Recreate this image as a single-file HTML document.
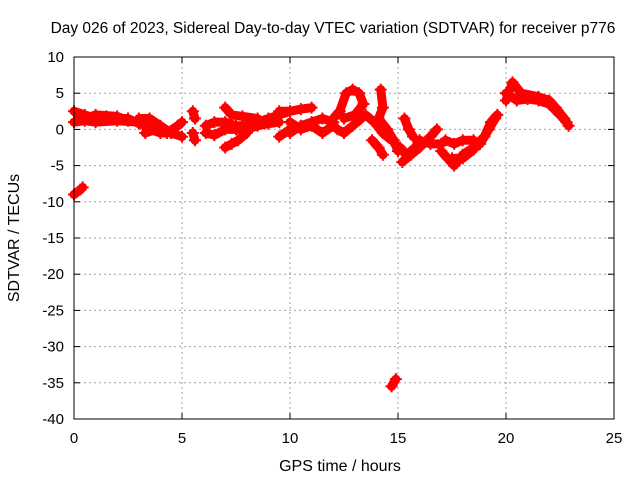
<!DOCTYPE html>
<html><head><meta charset="utf-8"><style>
body{margin:0;background:#fff}
svg{display:block;font-family:"Liberation Sans",sans-serif;font-size:15px}
</style></head><body>
<svg id="c" width="640" height="480"></svg>
<script>
const xTicks=[0,5,10,15,20,25];
const yTicks=[10,5,0,-5,-10,-15,-20,-25,-30,-35,-40];
const arcA=[[0,2.5],[0.5,2],[1,1.5],[1.5,1.8],[2,1.5],[2.5,1.5],[3,0.8],[3.5,0.5]];
const arcB=[[0,1],[0.5,1.2],[1,1],[2,1.2],[3,1],[3.5,0],[4,-0.5],[4.5,-0.5]];
const arcC=[[3,1.5],[3.5,1.5],[4,0.5],[4.5,-0.5],[5,-1]];
const arcD=[[3.3,-0.5],[3.8,0],[4.3,-0.5],[4.8,0.5],[5,1]];
const arcE=[[5.5,2.5],[5.6,1.5]];
const arcF=[[5.5,-0.5],[5.6,-1.5]];
const arcG=[[6.1,0.5],[6.5,1],[7,1],[7.5,0.5],[8,0.5],[8.5,1],[9,1.5],[9.5,2],[10,2.5]];
const arcH=[[6.1,-0.5],[6.5,-0.8],[7,0],[7.5,0],[8,0],[8.5,0.5],[9,0.8],[9.5,1]];
const arcI=[[7,3],[7.3,2],[7.8,1.8],[8.5,1.5]];
const arcJ=[[7,-2.5],[7.3,-2],[7.6,-1.5],[8,-0.5]];
const arcK=[[9.5,2.5],[10,2.5],[10.5,2.8],[11,3]];
const arcL=[[10,1],[10.5,0],[11,0.5],[11.5,-0.5],[12,0.5]];
const arcM=[[10,-0.5],[10.5,0.5],[11,1],[11.5,1.5],[12,1]];
const arcN=[[9.5,-1],[10,0]];
const arcO=[[12,1.5],[12.3,2.5],[12.6,5],[12.9,5.5],[13.2,5],[13.4,3.5],[13,2],[12.5,1.5]];
const arcP=[[12.2,0],[12.5,-0.5],[12.9,0.5],[13.3,1.5]];
const arcQ=[[14.2,5.5],[14.3,3],[14.1,1.5],[14.5,0],[14.8,-1.5],[15,-3]];
const arcR=[[13.5,2],[13.9,1],[14.3,-0.5],[14.7,-1.5]];
const arcS=[[13.8,-1.5],[14.1,-2.5],[14.3,-3.5]];
const arcT=[[0,-9],[0.3,-8.3],[0.4,-8]];
const arcU=[[14.7,-35.5],[14.9,-34.5]];
const arcV=[[15.2,-4.5],[15.6,-3.5],[16,-2.5],[16.5,-1],[16.8,0]];
const arcW=[[15.1,-2.5],[15.4,-3.5],[15.8,-2.5],[16,-1.5],[16.5,-2],[17,-2]];
const arcX=[[15.3,1.5],[15.5,0],[15.7,-1]];
const arcY=[[17,-3],[17.3,-4],[17.6,-5],[18,-3.5],[18.5,-2.5],[19,-1],[19.3,1],[19.6,2]];
const arcZ=[[17.2,-1.5],[17.6,-2],[18,-1.5],[18.5,-1.5]];
const arcAA=[[17.5,-4],[18,-4],[18.5,-2.8]];
const arcAB=[[20,4],[20.3,6.5],[20.7,5],[21.5,4.5],[22,4],[22.3,3],[22.7,1.5],[22.9,0.5]];
const arcAC=[[20,5],[20.5,4],[21,4.2],[21.5,4],[22,3.5],[22.5,2],[22.8,1]];
const arcAD=[[0.2,2],[0.5,1.5],[1,2],[2,1.8],[2.5,1.2]];
const arcAE=[[18.8,-2],[19.2,0],[19.5,1.5]];
const arcs=[arcA,arcB,arcC,arcD,arcE,arcF,arcG,arcH,arcI,arcJ,arcK,arcL,arcM,arcN,arcO,arcP,arcQ,arcR,arcS,arcT,arcU,arcV,arcW,arcX,arcY,arcZ,arcAA,arcAB,arcAC,arcAD,arcAE];

const L=74,R=614,T=57,B=419;
const sx=v=>L+(v-0)/25*(R-L);
const sy=v=>T+(10-v)/50*(B-T);
const svg=document.getElementById('c');
const NS='http://www.w3.org/2000/svg';
function mk(t,a,p){const e=document.createElementNS(NS,t);for(const k in a)e.setAttribute(k,a[k]);(p||svg).appendChild(e);return e;}

xTicks.forEach(v=>{
  const x=sx(v);
  if(v>0&&v<25){const g=mk('line',{x1:x,y1:T,x2:x,y2:B,stroke:'#a0a0a0','stroke-dasharray':'2,3'});
  
  }
  mk('line',{x1:x,y1:B,x2:x,y2:B-6,stroke:'#000'});
  mk('line',{x1:x,y1:T,x2:x,y2:T+6,stroke:'#000'});
  const t=mk('text',{x:x,y:B+24,'text-anchor':'middle'});t.textContent=v;
  
  
});
yTicks.forEach(v=>{
  const y=sy(v);
  if(v<10&&v>-40){const g=mk('line',{x1:L,y1:y,x2:R,y2:y,stroke:'#a0a0a0','stroke-dasharray':'2,3'});
  
  }
  mk('line',{x1:L,y1:y,x2:L+6,y2:y,stroke:'#000'});
  mk('line',{x1:R,y1:y,x2:R-6,y2:y,stroke:'#000'});
  const t=mk('text',{x:L-10,y:y+5,'text-anchor':'end'});t.textContent=v;
  
  
});
const g=mk('g',{});


arcs.forEach(a=>{
  const pl=mk('polyline',{points:a.map(p=>sx(p[0])+','+sy(p[1])).join(' '),fill:'none',stroke:'#f00','stroke-width':9,'stroke-linejoin':'round','stroke-linecap':'round'},g);
  
  
  a.forEach(p=>{const x=sx(p[0]),y=sy(p[1]);
    const m=mk('path',{d:`M${x-6},${y}H${x+6}M${x},${y-6}V${y+6}`,stroke:'#f00','stroke-width':2},g);
    
    });
});
const bd=mk('rect',{x:L,y:T,width:R-L,height:B-T,fill:'none',stroke:'#000'});


const ti=mk('text',{x:333,y:33,'text-anchor':'middle','font-size':'15.5'});ti.textContent='Day 026 of 2023, Sidereal Day-to-day VTEC variation (SDTVAR) for receiver p776';


const xl=mk('text',{x:340,y:471,'text-anchor':'middle','font-size':'16'});xl.textContent='GPS time / hours';


const yl=mk('text',{x:0,y:0,'text-anchor':'middle','font-size':'16',transform:'translate(19,238) rotate(-90)'});yl.textContent='SDTVAR / TECUs';


</script>
</body></html>
